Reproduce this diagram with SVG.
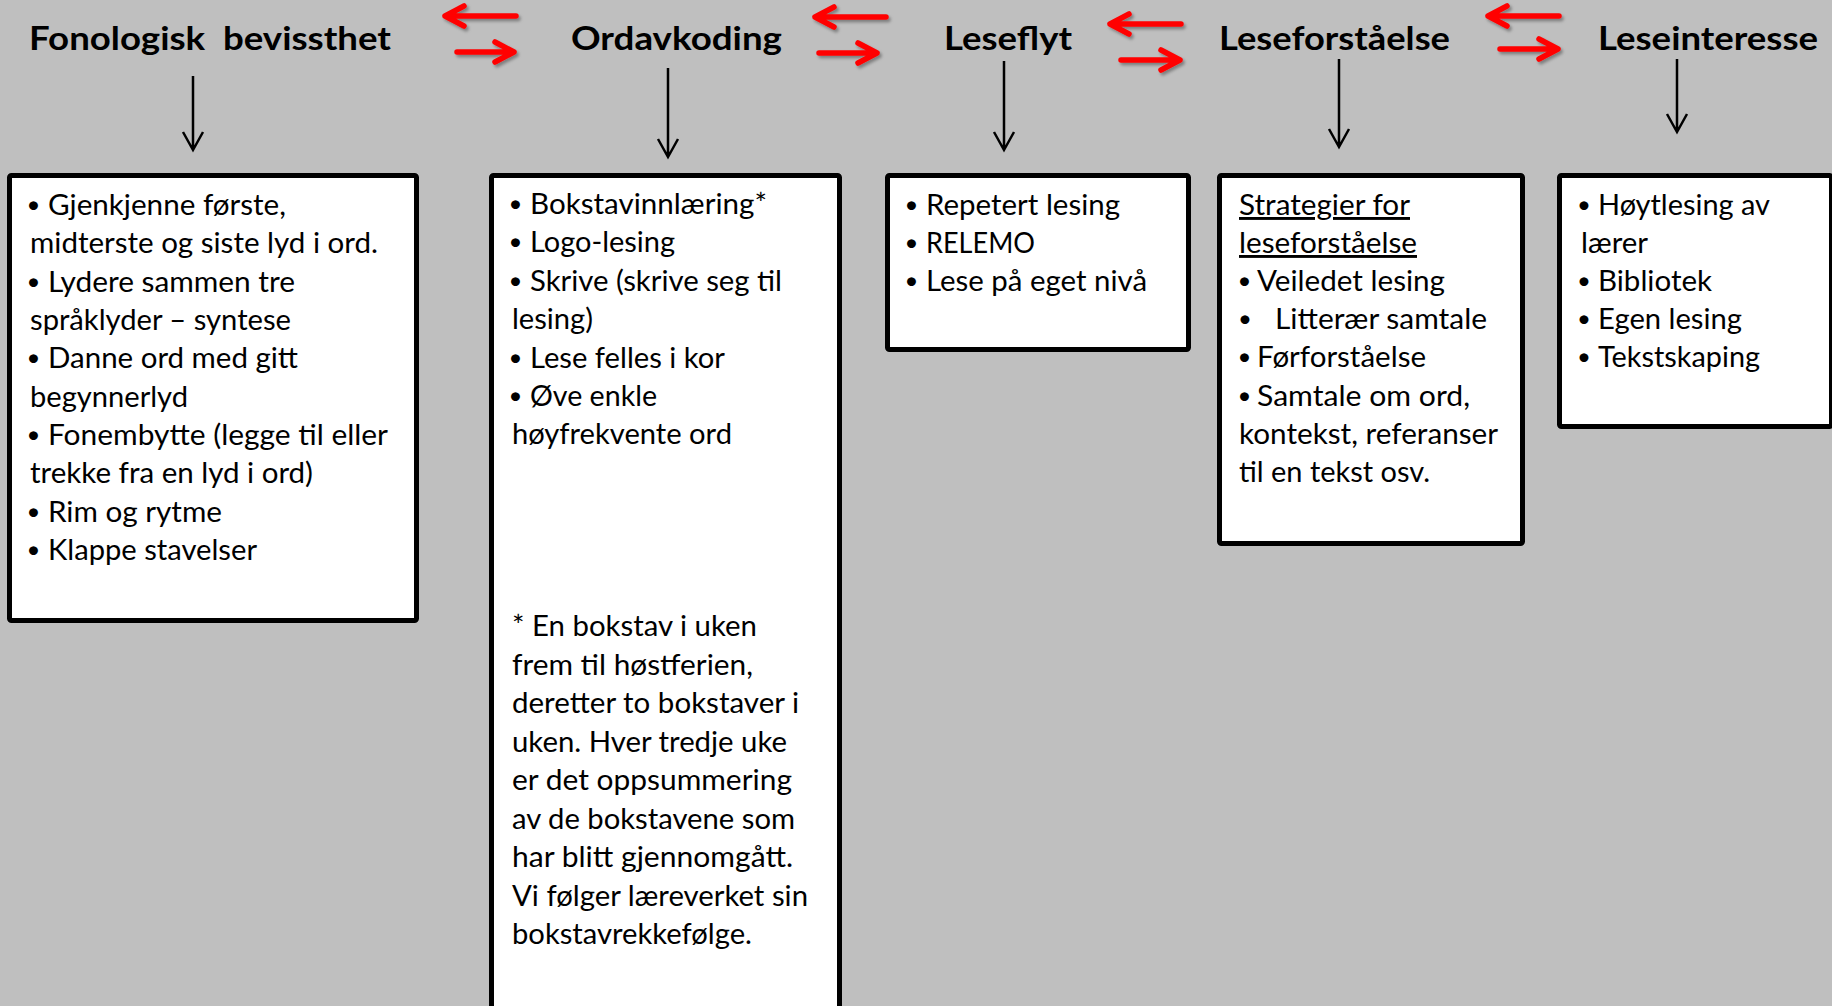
<svg xmlns="http://www.w3.org/2000/svg" width="1832" height="1006" viewBox="0 0 1832 1006">
<style>
.bg{fill:#bfbfbf}
.box{fill:#ffffff;stroke:#000000;stroke-width:5}
.title{font-family:Lato,"Liberation Sans",sans-serif;font-weight:bold;font-size:32px;fill:#000;white-space:pre}
.t{font-family:Lato,"Liberation Sans",sans-serif;font-size:29px;fill:#000}
.b{font-family:Lato,"Liberation Sans",sans-serif;font-size:24px;fill:#000;text-anchor:middle}
.u{text-decoration:underline}
.red{fill:none;stroke:#ff0000;stroke-width:5.5;stroke-linecap:round;stroke-linejoin:round}
.blk{fill:none;stroke:#000;stroke-width:2.5;stroke-linecap:butt;stroke-linejoin:miter}
</style>
<defs>
<filter id="sh" x="-20%" y="-50%" width="140%" height="200%">
<feDropShadow dx="2" dy="2.5" stdDeviation="1.5" flood-color="#000" flood-opacity="0.35"/>
</filter>
</defs>
<rect class="bg" x="0" y="0" width="1832" height="1006"/>

<g id="titles">
<text id="t1" class="title" x="29" y="50" textLength="362" lengthAdjust="spacingAndGlyphs">Fonologisk  bevissthet</text>
<text id="t2" class="title" x="571" y="50" textLength="211" lengthAdjust="spacingAndGlyphs">Ordavkoding</text>
<text id="t3" class="title" x="944" y="50" textLength="128" lengthAdjust="spacingAndGlyphs">Leseflyt</text>
<text id="t4" class="title" x="1219" y="50" textLength="231" lengthAdjust="spacingAndGlyphs">Leseforståelse</text>
<text id="t5" class="title" x="1598" y="50" textLength="220" lengthAdjust="spacingAndGlyphs">Leseinteresse</text>
</g>

<g id="connectors">
<g filter="url(#sh)">
<path class="red" d="M516 16 H445 M464 6 L445 16 L464 26"/>
<path class="red" d="M457 52 H514 M495 42 L514 52 L495 62"/>
<path class="red" d="M886 17 H815 M834 7 L815 17 L834 27"/>
<path class="red" d="M819 53 H877 M858 43 L877 53 L858 63"/>
<path class="red" d="M1181 24 H1110 M1129 14 L1110 24 L1129 34"/>
<path class="red" d="M1121 60 H1180 M1161 50 L1180 60 L1161 70"/>
<path class="red" d="M1559 16 H1488 M1507 6 L1488 16 L1507 26"/>
<path class="red" d="M1500 49 H1558 M1539 39 L1558 49 L1539 59"/>
</g>
<path class="blk" d="M193 76 V150 M183 132 L193 150 L203 132"/>
<path class="blk" d="M668 68 V157 M658 139 L668 157 L678 139"/>
<path class="blk" d="M1004 61 V150 M994 132 L1004 150 L1014 132"/>
<path class="blk" d="M1339 59 V147 M1329 129 L1339 147 L1349 129"/>
<path class="blk" d="M1677 59 V132 M1667 114 L1677 132 L1687 114"/>
</g>

<g id="box1">
<rect class="box" x="9.5" y="175.5" width="407" height="445" rx="2"/>
<text class="b" x="33.5" y="213">•</text><text class="t" x="48" y="215" textLength="238" lengthAdjust="spacingAndGlyphs">Gjenkjenne første,</text>
<text class="t" x="30" y="253.4" textLength="348" lengthAdjust="spacingAndGlyphs">midterste og siste lyd i ord.</text>
<text class="b" x="33.5" y="289.7">•</text><text class="t" x="48" y="291.7" textLength="247" lengthAdjust="spacingAndGlyphs">Lydere sammen tre</text>
<text class="t" x="30" y="330" textLength="261" lengthAdjust="spacingAndGlyphs">språklyder – syntese</text>
<text class="b" x="33.5" y="366.4">•</text><text class="t" x="48" y="368.4" textLength="250" lengthAdjust="spacingAndGlyphs">Danne ord med gitt</text>
<text class="t" x="30" y="406.7" textLength="158" lengthAdjust="spacingAndGlyphs">begynnerlyd</text>
<text class="b" x="33.5" y="443">•</text><text class="t" x="48" y="445" textLength="340" lengthAdjust="spacingAndGlyphs">Fonembytte (legge til eller</text>
<text class="t" x="30" y="483.4" textLength="283" lengthAdjust="spacingAndGlyphs">trekke fra en lyd i ord)</text>
<text class="b" x="33.5" y="519.8">•</text><text class="t" x="48" y="521.8" textLength="174" lengthAdjust="spacingAndGlyphs">Rim og rytme</text>
<text class="b" x="33.5" y="558">•</text><text class="t" x="48" y="560" textLength="209" lengthAdjust="spacingAndGlyphs">Klappe stavelser</text>
</g>

<g id="box2">
<rect class="box" x="491.5" y="175.5" width="348" height="900" rx="2"/>
<text class="b" x="515.5" y="212">•</text><text class="t" x="530" y="214" textLength="237" lengthAdjust="spacingAndGlyphs">Bokstavinnlæring*</text>
<text class="b" x="515.5" y="250.4">•</text><text class="t" x="530" y="252.4" textLength="145" lengthAdjust="spacingAndGlyphs">Logo-lesing</text>
<text class="b" x="515.5" y="288.8">•</text><text class="t" x="530" y="290.8" textLength="252" lengthAdjust="spacingAndGlyphs">Skrive (skrive seg til</text>
<text class="t" x="512" y="329.2" textLength="81" lengthAdjust="spacingAndGlyphs">lesing)</text>
<text class="b" x="515.5" y="365.6">•</text><text class="t" x="530" y="367.6" textLength="195" lengthAdjust="spacingAndGlyphs">Lese felles i kor</text>
<text class="b" x="515.5" y="404">•</text><text class="t" x="530" y="406" textLength="127" lengthAdjust="spacingAndGlyphs">Øve enkle</text>
<text class="t" x="512" y="444.4" textLength="220" lengthAdjust="spacingAndGlyphs">høyfrekvente ord</text>
<text class="t" x="512" y="636" textLength="245" lengthAdjust="spacingAndGlyphs">* En bokstav i uken</text>
<text class="t" x="512" y="674.5" textLength="241" lengthAdjust="spacingAndGlyphs">frem til høstferien,</text>
<text class="t" x="512" y="713" textLength="287" lengthAdjust="spacingAndGlyphs">deretter to bokstaver i</text>
<text class="t" x="512" y="751.5" textLength="275" lengthAdjust="spacingAndGlyphs">uken. Hver tredje uke</text>
<text class="t" x="512" y="790" textLength="280" lengthAdjust="spacingAndGlyphs">er det oppsummering</text>
<text class="t" x="512" y="828.5" textLength="283" lengthAdjust="spacingAndGlyphs">av de bokstavene som</text>
<text class="t" x="512" y="867" textLength="281" lengthAdjust="spacingAndGlyphs">har blitt gjennomgått.</text>
<text class="t" x="512" y="905.5" textLength="296" lengthAdjust="spacingAndGlyphs">Vi følger læreverket sin</text>
<text class="t" x="512" y="944" textLength="240" lengthAdjust="spacingAndGlyphs">bokstavrekkefølge.</text>
</g>

<g id="box3">
<rect class="box" x="887.5" y="175.5" width="301" height="174" rx="2"/>
<text class="b" x="911.5" y="213">•</text><text class="t" x="926" y="215" textLength="194" lengthAdjust="spacingAndGlyphs">Repetert lesing</text>
<text class="b" x="911.5" y="251">•</text><text class="t" x="926" y="253" textLength="109" lengthAdjust="spacingAndGlyphs">RELEMO</text>
<text class="b" x="911.5" y="289">•</text><text class="t" x="926" y="291" textLength="221" lengthAdjust="spacingAndGlyphs">Lese på eget nivå</text>
</g>

<g id="box4">
<rect class="box" x="1219.5" y="175.5" width="303" height="368" rx="2"/>
<text class="t u" x="1239" y="215" textLength="171" lengthAdjust="spacingAndGlyphs">Strategier for</text>
<text class="t u" x="1239" y="253" textLength="178" lengthAdjust="spacingAndGlyphs">leseforståelse</text>
<text class="b" x="1244.5" y="289">•</text><text class="t" x="1257" y="291" textLength="188" lengthAdjust="spacingAndGlyphs">Veiledet lesing</text>
<text class="b" x="1245" y="327">•</text><text class="t" x="1275" y="329" textLength="212" lengthAdjust="spacingAndGlyphs">Litterær samtale</text>
<text class="b" x="1244.5" y="365">•</text><text class="t" x="1257" y="367" textLength="169" lengthAdjust="spacingAndGlyphs">Førforståelse</text>
<text class="b" x="1244.5" y="403.5">•</text><text class="t" x="1257" y="405.5" textLength="213" lengthAdjust="spacingAndGlyphs">Samtale om ord,</text>
<text class="t" x="1239" y="444" textLength="259" lengthAdjust="spacingAndGlyphs">kontekst, referanser</text>
<text class="t" x="1239" y="482" textLength="191" lengthAdjust="spacingAndGlyphs">til en tekst osv.</text>
</g>

<g id="box5">
<rect class="box" x="1559.5" y="175.5" width="272" height="251" rx="2"/>
<text class="b" x="1584" y="213">•</text><text class="t" x="1598" y="215" textLength="172" lengthAdjust="spacingAndGlyphs">Høytlesing av</text>
<text class="t" x="1581" y="253" textLength="67" lengthAdjust="spacingAndGlyphs">lærer</text>
<text class="b" x="1584" y="289">•</text><text class="t" x="1598" y="291" textLength="114" lengthAdjust="spacingAndGlyphs">Bibliotek</text>
<text class="b" x="1584" y="327">•</text><text class="t" x="1598" y="329" textLength="144" lengthAdjust="spacingAndGlyphs">Egen lesing</text>
<text class="b" x="1584" y="365">•</text><text class="t" x="1598" y="367" textLength="162" lengthAdjust="spacingAndGlyphs">Tekstskaping</text>
</g>
</svg>
